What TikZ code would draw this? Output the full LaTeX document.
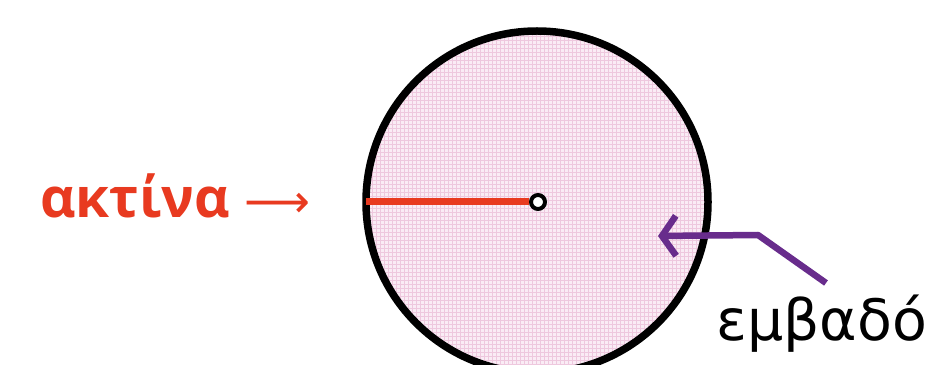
\documentclass[tikz,border=0pt]{standalone}
\usepackage{fontspec}
\setmainfont{DejaVu Sans}
\newfontfamily\labelbold{Open Sans}
\usetikzlibrary{arrows.meta}
\definecolor{radred}{RGB}{232,58,32}
\definecolor{areapurple}{RGB}{104,44,140}
\definecolor{gridpink}{RGB}{238,200,222}
\definecolor{fillpink}{RGB}{250,236,245}
\tikzset{
  rim/.style={line width=7.5pt,black},
  radius line/.style={line width=7pt,radred},
  area arrow/.style={line width=6.5pt,areapurple,line join=round,
    -{Straight Barb[length=14pt,width=40pt,line width=6.5pt]}},
  big label/.style={font=\fontsize{55}{60}\selectfont,inner sep=0pt}
}
\begin{document}
\begin{tikzpicture}[x=1pt,y=1pt]
        \useasboundingbox (0,0) rectangle (933,364);
        % disc with its fine grid
        \begin{scope}
            \clip (537,162) circle (172);
            \fill[fillpink] (360,-20) rectangle (715,340);
            \draw[gridpink,line width=0.5pt,step=4] (360,-20) grid (715,340);
        \end{scope}
        \draw[rim] (537,162) circle (171);
        \coordinate (west rim) at (366,162);
        \node[circle,draw=black,fill=white,line width=4pt,
            minimum size=14pt,inner sep=0pt] (centre) at (538,162) {};
        \draw[radius line] (west rim) -- (centre.west);
        \node[big label,anchor=base west,text=radred] (aktina) at (40,146)
            {{\labelbold\bfseries ακτίνα}\hspace{14pt}{\fontsize{46}{50}\selectfont ⟶}};
        \node[big label,font=\fontsize{57}{60}\selectfont,anchor=base west]
            (emvado) at (716,24) {εμβαδό};
        \coordinate (bend) at (758,129);
        \coordinate (tip) at (658,128);
        \draw[area arrow] (826,81) -- (bend) -- (tip);
    \end{tikzpicture}
\end{document}
